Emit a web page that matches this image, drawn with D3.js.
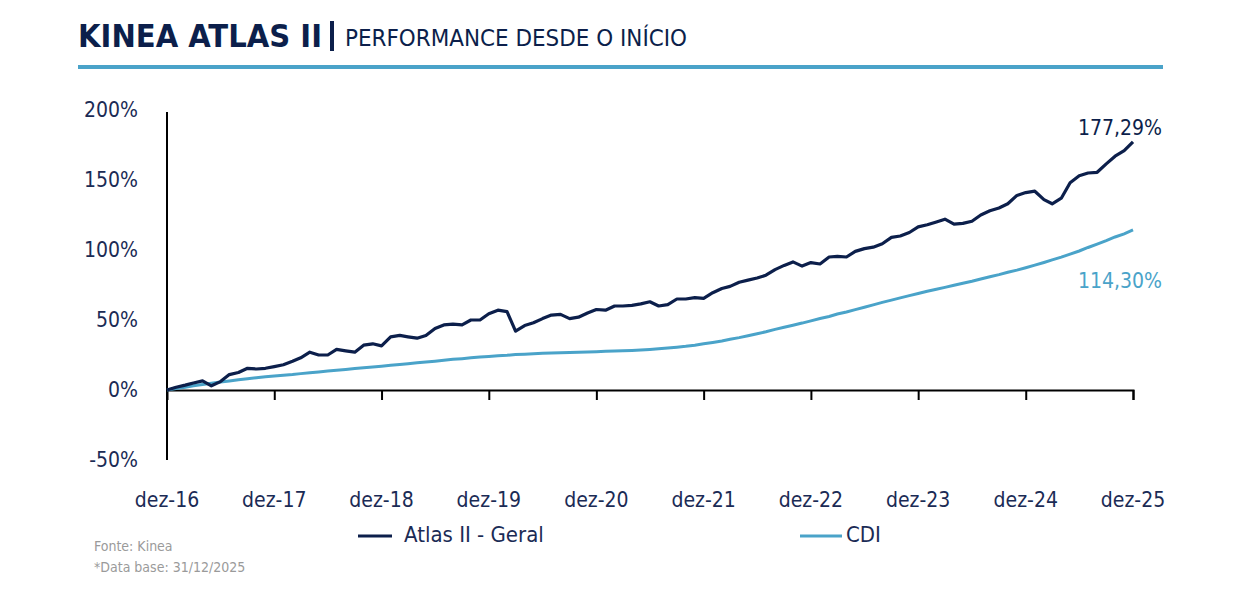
<!DOCTYPE html>
<html>
<head>
<meta charset="utf-8">
<script src="https://cdn.jsdelivr.net/npm/d3@7"></script>
<style>
  body { margin: 0; background: #fff; }
  svg { display: block; font-family: "Liberation Sans Narrow", "DejaVu Sans Condensed", "Roboto", sans-serif; }
</style>
</head>
<body>
<svg id="chart" width="1240" height="600"></svg>
<script>
// monthly points, dez-16 .. dez-25 (cumulative %)
var startMonth = new Date(2016, 11, 31);

var atlasValues = [
  0, 2, 3.5, 5, 6.5, 3, 6, 11, 12.5, 15.5, 15, 15.5,
  16.7, 18, 20.5, 23, 27, 25, 25, 29, 28, 27, 32, 33,
  31.5, 38, 39, 38, 37, 39, 44, 46.5, 47, 46.5, 50, 50,
  54.5, 57, 56, 42, 46, 48, 51, 53.5, 54, 51, 52, 55,
  57.5, 57, 60, 60, 60.5, 61.5, 63, 60, 61, 65, 65, 66,
  65.5, 69.5, 72.5, 74, 77, 78.5, 80, 82, 86, 89, 91.5, 88.5,
  91, 90, 95, 95.5, 95, 99, 101, 102, 104.5, 109, 110, 112.5,
  116.5, 118, 120, 122, 118.5, 119, 120.5, 125, 128, 130, 133, 139,
  141, 142, 136, 133, 137, 148, 153, 155, 155.5, 161.5, 167, 171,
  177.29
];

var cdiValues = [
  0, 1.1, 2.0, 3.0, 3.9, 4.8, 5.7, 6.5, 7.4, 8.1, 8.8, 9.4,
  10.0, 10.6, 11.1, 11.7, 12.3, 12.9, 13.5, 14.1, 14.7, 15.3, 15.9, 16.4,
  17.0, 17.6, 18.2, 18.8, 19.4, 20.0, 20.6, 21.3, 21.9, 22.4, 23.0, 23.5,
  24.0, 24.5, 24.8, 25.3, 25.6, 25.9, 26.2, 26.4, 26.6, 26.8, 27.0, 27.2,
  27.4, 27.6, 27.8, 28.0, 28.3, 28.6, 29.0, 29.5, 30.0, 30.6, 31.2, 32.0,
  33.0, 34.0, 35.0, 36.3, 37.4, 38.8, 40.2, 41.6, 43.3, 44.8, 46.3, 47.8,
  49.4, 51.1, 52.5, 54.3, 55.7, 57.4, 59.1, 60.8, 62.6, 64.2, 65.8, 67.4,
  68.9, 70.5, 71.9, 73.3, 74.8, 76.3, 77.7, 79.3, 80.9, 82.4, 84.1, 85.6,
  87.3, 89.2, 91.1, 92.9, 94.9, 97.1, 99.3, 101.8, 104.2, 106.7, 109.3, 111.5,
  114.3
];

var xTickLabels = ["dez-16","dez-17","dez-18","dez-19","dez-20","dez-21","dez-22","dez-23","dez-24","dez-25"];
var yTicks = [-50, 0, 50, 100, 150, 200];
var seriesNames = ["Atlas II - Geral", "CDI"];
var endLabels = ["177,29%", "114,30%"];

var navy = "#0c1f4b", blue = "#4aa3c9", txt = "#1b2b55";

var svg = d3.select("#chart");

// header
svg.append("text")
  .attr("x", 78).attr("y", 47)
  .attr("fill", navy).attr("font-size", 32).attr("font-weight", "bold")
  .attr("textLength", 244).attr("lengthAdjust", "spacingAndGlyphs")
  .text("KINEA ATLAS II");
svg.append("rect")
  .attr("x", 330).attr("y", 21).attr("width", 4).attr("height", 30)
  .attr("fill", navy);
svg.append("text")
  .attr("x", 345).attr("y", 46)
  .attr("fill", navy).attr("font-size", 23)
  .attr("textLength", 342).attr("lengthAdjust", "spacingAndGlyphs")
  .text("PERFORMANCE DESDE O INÍCIO");
svg.append("rect")
  .attr("x", 78).attr("y", 65).attr("width", 1085).attr("height", 4)
  .attr("fill", blue);

var dateAt = function(i) { return d3.timeMonth.offset(startMonth, i); };

var x = d3.scaleTime()
  .domain([startMonth, dateAt(108)])
  .range([167, 1133]);
var y = d3.scaleLinear()
  .domain([-50, 200])
  .range([460, 110]);

// y labels
svg.append("g").selectAll("text")
  .data(yTicks).join("text")
  .attr("x", 138).attr("y", d => y(d))
  .attr("dy", "0.35em")
  .attr("text-anchor", "end")
  .attr("fill", txt).attr("font-size", 21)
  .text(d => d + "%");

// y axis line
svg.append("line")
  .attr("x1", 167).attr("x2", 167)
  .attr("y1", 112).attr("y2", 460)
  .attr("stroke", "#000").attr("stroke-width", 2);

// x axis at 0%
var xAxis = d3.axisBottom(x)
  .tickValues(xTickLabels.map((d, i) => dateAt(i * 12)))
  .tickSize(10)
  .tickFormat("");
var gx = svg.append("g")
  .attr("transform", "translate(0," + y(0) + ")")
  .call(xAxis);
gx.select(".domain").attr("stroke", "#000").attr("stroke-width", 2);
gx.selectAll(".tick line").attr("stroke", "#000").attr("stroke-width", 2);
gx.selectAll(".tick").filter((d, i) => i === 0).select("line").remove();

svg.append("g").selectAll("text")
  .data(xTickLabels).join("text")
  .attr("x", (d, i) => x(dateAt(i * 12)))
  .attr("y", 500)
  .attr("dy", "0.35em")
  .attr("text-anchor", "middle")
  .attr("fill", txt).attr("font-size", 21)
  .text(d => d);

// lines
var line = d3.line()
  .x((d, i) => x(dateAt(i)))
  .y(d => y(d));

svg.append("path")
  .datum(cdiValues)
  .attr("d", line)
  .attr("fill", "none")
  .attr("stroke", blue)
  .attr("stroke-width", 3);

svg.append("path")
  .datum(atlasValues)
  .attr("d", line)
  .attr("fill", "none")
  .attr("stroke", navy)
  .attr("stroke-width", 3.2)
  .attr("stroke-linejoin", "round");

// end labels
svg.append("text")
  .attr("x", 1162).attr("y", 128).attr("dy", "0.35em")
  .attr("text-anchor", "end").attr("fill", navy).attr("font-size", 21)
  .text(endLabels[0]);
svg.append("text")
  .attr("x", 1162).attr("y", 281).attr("dy", "0.35em")
  .attr("text-anchor", "end").attr("fill", blue).attr("font-size", 21)
  .text(endLabels[1]);

// legend
var legend = [
  {name: seriesNames[0], color: navy, x1: 358, x2: 392, tx: 404},
  {name: seriesNames[1], color: blue, x1: 800, x2: 842, tx: 846}
];
var lg = svg.append("g").selectAll("g").data(legend).join("g");
lg.append("line")
  .attr("x1", d => d.x1).attr("x2", d => d.x2)
  .attr("y1", 536).attr("y2", 536)
  .attr("stroke", d => d.color).attr("stroke-width", 3);
lg.append("text")
  .attr("x", d => d.tx).attr("y", 534).attr("dy", "0.35em")
  .attr("fill", txt).attr("font-size", 22)
  .text(d => d.name);

// footer
svg.append("text")
  .attr("x", 94).attr("y", 546).attr("dy", "0.35em")
  .attr("fill", "#9a9a9a").attr("font-size", 14)
  .text("Fonte: Kinea");
svg.append("text")
  .attr("x", 94).attr("y", 567).attr("dy", "0.35em")
  .attr("fill", "#9a9a9a").attr("font-size", 14)
  .text("*Data base: 31/12/2025");
</script>
</body>
</html>
